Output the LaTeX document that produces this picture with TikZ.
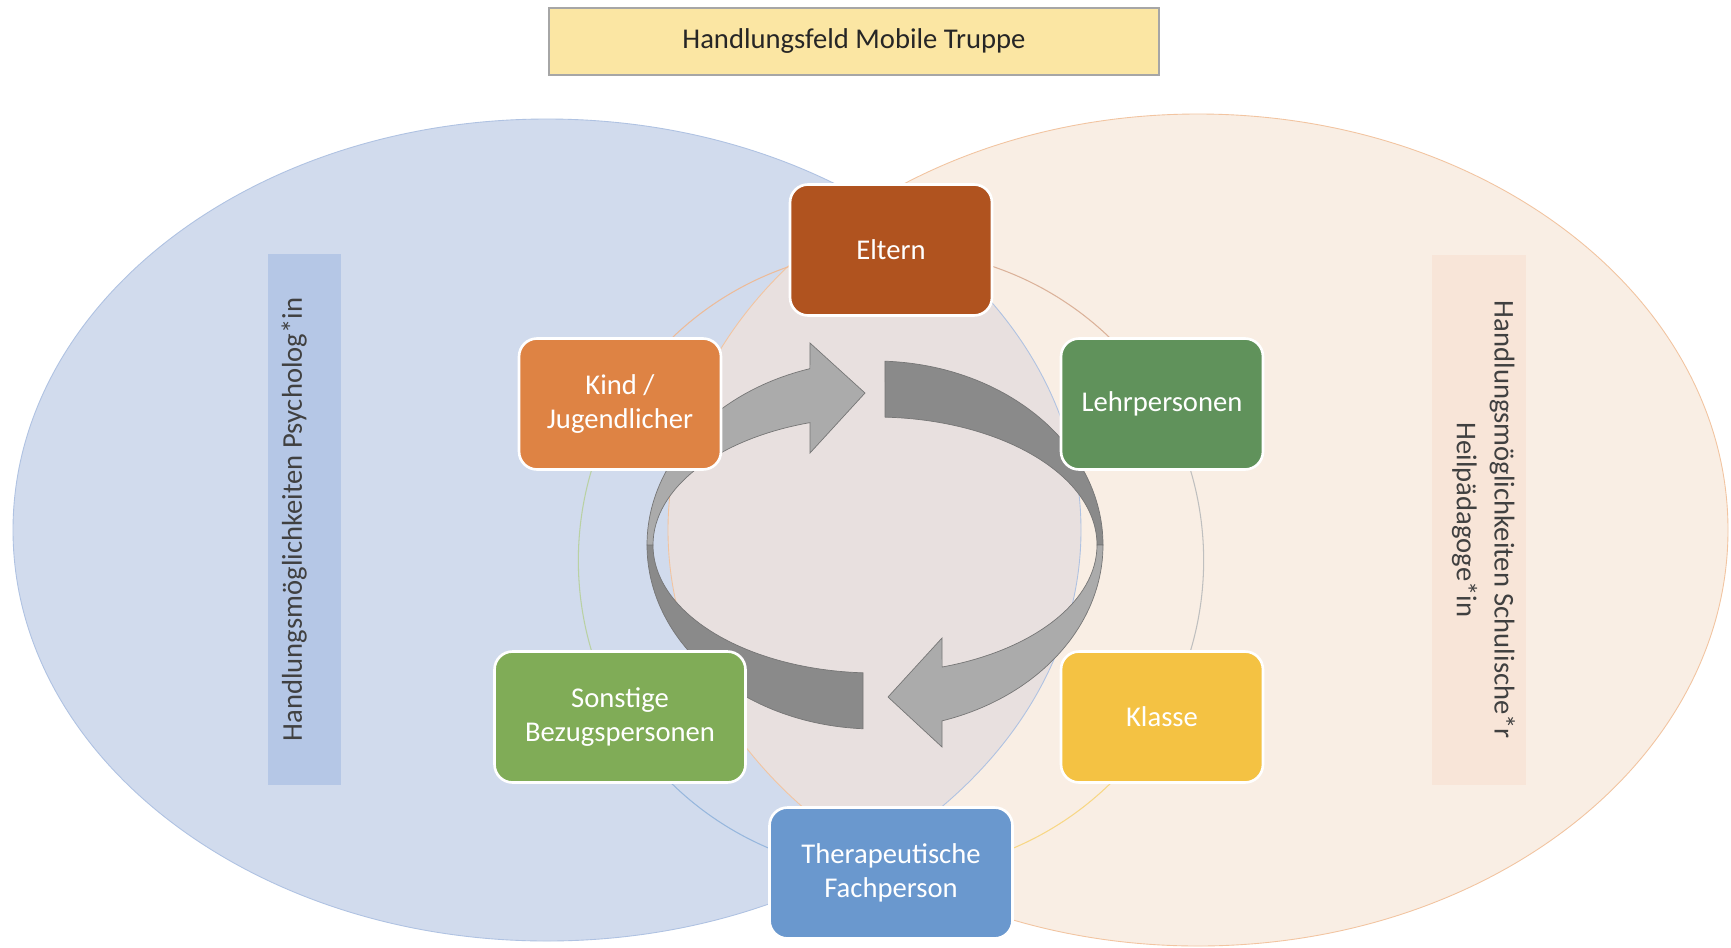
\documentclass[tikz,border=0pt]{standalone}
\usepackage{fontspec}
\setmainfont{Carlito}
\usepackage{xcolor}
\usepackage{tikz}
\usetikzlibrary{calc}

\pgfdeclarelayer{back}
\pgfdeclarelayer{ringlayer}
\pgfsetlayers{back,ringlayer,main}

\definecolor{psyfill}{HTML}{D1DBED}
\definecolor{psyline}{HTML}{AFC2E2}
\definecolor{schulfill}{HTML}{F9EEE4}
\definecolor{schulline}{HTML}{F2C4A0}
\definecolor{lensfill}{HTML}{E8E0DF}
\definecolor{psybox}{HTML}{B5C7E6}
\definecolor{schulbox}{HTML}{F8E5D8}
\definecolor{titlefill}{HTML}{FBE6A3}
\definecolor{elternfill}{HTML}{B0531F}
\definecolor{kindfill}{HTML}{DE8344}
\definecolor{lehrfill}{HTML}{60925B}
\definecolor{sonstfill}{HTML}{80AC57}
\definecolor{klassefill}{HTML}{F4C243}
\definecolor{therafill}{HTML}{6A98CE}
\definecolor{bandback}{HTML}{8A8A8A}
\definecolor{bandfront}{HTML}{ABABAB}
\definecolor{bandline}{HTML}{767676}
\newcommand{\diafont}{\fontsize{16.3}{19.5}\selectfont}

\begin{document}
\begin{tikzpicture}[x=0.02cm,y=-0.02cm,
  box/.style={rounded corners=0.36cm,draw=white,line width=1.5pt,text=white,align=center,
    minimum width=4.04cm,minimum height=2.62cm,font=\diafont},
  sidebox/.style={minimum width=10.62cm,inner sep=0pt},
  sidetext/.style={text=black!75,align=center,font=\diafont,inner sep=0.27cm},
  ring/.style={line width=0.6pt,bend left=30,looseness=0.91},
  band/.style={draw=bandline,line width=0.4pt}]

\begin{pgfonlayer}{back}
  \fill[white,use as bounding box] (0,0) rectangle (1731,947);
  \fill[psyfill] (547,530) ellipse [x radius=534, y radius=411];
  \fill[schulfill] (1198,530) ellipse [x radius=530, y radius=416];
  \begin{scope}
    \clip (547,530) ellipse [x radius=534, y radius=411];
    \fill[lensfill] (1198,530) ellipse [x radius=530, y radius=416];
  \end{scope}
  \draw[psyline,line width=0.5pt] (547,530) ellipse [x radius=534, y radius=411];
  \draw[schulline,line width=0.5pt] (1198,530) ellipse [x radius=530, y radius=416];
\end{pgfonlayer}

  \node[draw=black!35,line width=0.8pt,fill=titlefill,minimum width=12.2cm,minimum height=1.34cm,
    font=\diafont,text=black!85] at (854,41.5) (title) {Handlungsfeld Mobile Truppe};

  \node[sidebox,fill=psybox,rotate=90,minimum height=1.46cm] at (304.5,519.5) (psybox) {};
  \node[sidetext,rotate=90,anchor=north] at (psybox.north) (psytext) {Handlungsmöglichkeiten Psycholog*in};
  \node[sidebox,fill=schulbox,rotate=-90,minimum height=1.88cm] at (1479,520) (schulbox) {};
  \node[sidetext,rotate=-90,anchor=north,inner sep=0.22cm] at (schulbox.north) (schultext)
    {Handlungsmöglichkeiten Schulische*r\\[2pt]Heilpädagoge*in};

  \coordinate (rc) at (875,545);
  \filldraw[band,fill=bandback] ($(rc)+(-87.5:228 and 184)$) arc[start angle=-87.5,end angle=0,x radius=228,y radius=184]
    -- ($(rc)+(0:222 and 128)$) arc[start angle=0,end angle=-87.4,x radius=222,y radius=128] -- cycle;
  \filldraw[band,fill=bandfront] ($(rc)+(0:228 and 184)$) arc[start angle=0,end angle=72.9,x radius=228,y radius=184]
    -- (942,747) -- (888,697) -- (942,638) -- ($(rc)+(72.4:222 and 128)$)
    arc[start angle=72.4,end angle=0,x radius=222,y radius=128] -- cycle;
  \filldraw[band,fill=bandback] ($(rc)+(93:228 and 184)$) arc[start angle=93,end angle=180,x radius=228,y radius=184]
    -- ($(rc)+(180:222 and 128)$) arc[start angle=180,end angle=93.1,x radius=222,y radius=128] -- cycle;
  \filldraw[band,fill=bandfront] ($(rc)+(180:228 and 184)$) arc[start angle=180,end angle=253.4,x radius=228,y radius=184]
    -- (810,343) -- (865,393) -- (810,453) -- ($(rc)+(253:222 and 128)$)
    arc[start angle=253,end angle=180,x radius=222,y radius=128] -- cycle;

  \node[box,fill=elternfill] at (891,250) (eltern) {Eltern};
  \node[box,fill=lehrfill] at (1162,404) (lehr) {Lehrpersonen};
  \node[box,fill=klassefill] at (1162,717) (klasse) {Klasse};
  \node[box,fill=therafill,minimum width=4.86cm] at (891,873) (thera) {Therapeutische\\Fachperson};
  \node[box,fill=sonstfill,minimum width=5.02cm] at (620,717) (sonst) {Sonstige\\Bezugspersonen};
  \node[box,fill=kindfill] at (620,404) (kind) {Kind /\\Jugendlicher};

\begin{pgfonlayer}{ringlayer}
  \draw[ring,color=elternfill!45] (eltern.center) to (lehr.center);
  \draw[ring,color=black!25] (lehr.center) to (klasse.center);
  \draw[ring,color=klassefill!65] (klasse.center) to (thera.center);
  \draw[ring,color=therafill!70] (thera.center) to (sonst.center);
  \draw[ring,color=sonstfill!55] (sonst.center) to (kind.center);
  \draw[ring,color=kindfill!55] (kind.center) to (eltern.center);
\end{pgfonlayer}

\end{tikzpicture}
\end{document}
